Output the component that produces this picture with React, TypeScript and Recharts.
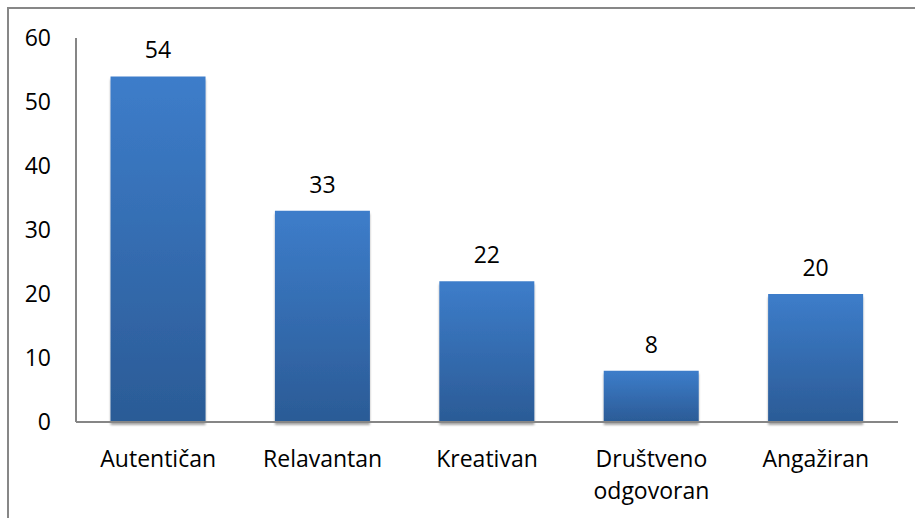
import { BarChart, Bar, XAxis, YAxis, LabelList } from 'recharts';

const categories = ['Autentičan', 'Relavantan', 'Kreativan', 'Društveno odgovoran', 'Angažiran'];
const values = [54, 33, 22, 8, 20];
const yTicks = [0, 10, 20, 30, 40, 50, 60];

const data = categories.map((name, i) => ({ name, value: values[i] }));

const FONT = '"Open Sans", "Noto Sans", sans-serif';
const FONT_SIZE = 23;

function CategoryTick({ x, y, payload }: any) {
  const words: string[] = String(payload.value).split(' ');
  return (
    <text x={x} y={y} textAnchor="middle" fill="#000" fontFamily={FONT} fontSize={FONT_SIZE}>
      {words.map((w, i) => (
        <tspan key={i} x={x} dy={i === 0 ? 37 : 32}>
          {w}
        </tspan>
      ))}
    </text>
  );
}

export default function App() {
  return (
    <div style={{ position: 'absolute', left: 0, top: 0, width: 915, height: 518, background: '#fff' }}>
      <div
        style={{
          position: 'absolute',
          left: 7,
          top: 7,
          right: -10,
          bottom: -10,
          borderLeft: '2px solid #878787',
          borderTop: '2px solid #878787',
        }}
      />
      <BarChart
        width={915}
        height={518}
        data={data}
        margin={{ top: 38, right: 17, bottom: 0, left: 0 }}
        barCategoryGap="21%"
        style={{ position: 'absolute', left: 0, top: 0 }}
      >
        <defs>
          <linearGradient id="barFill" x1="0" y1="0" x2="0" y2="1">
            <stop offset="0%" stopColor="#3D7DCA" />
            <stop offset="100%" stopColor="#2B5B96" />
          </linearGradient>
          <filter id="barShadow" x="-10%" y="-10%" width="120%" height="130%">
            <feDropShadow dx="0" dy="3" stdDeviation="1.2" floodColor="#000" floodOpacity="0.35" />
          </filter>
        </defs>
        <XAxis
          dataKey="name"
          interval={0}
          tickLine={false}
          axisLine={{ stroke: '#868686', strokeWidth: 2 }}
          tick={<CategoryTick />}
          height={96}
        />
        <YAxis
          domain={[0, 60]}
          ticks={yTicks}
          width={76}
          tickLine={false}
          tickSize={0}
          tickMargin={25}
          axisLine={{ stroke: '#868686', strokeWidth: 2 }}
          tick={{ fill: '#000', fontSize: FONT_SIZE, fontFamily: FONT }}
        />
        <Bar dataKey="value" fill="url(#barFill)" filter="url(#barShadow)" isAnimationActive={false}>
          <LabelList
            dataKey="value"
            position="top"
            offset={18}
            fill="#000"
            fontSize={FONT_SIZE}
            fontFamily={FONT}
          />
        </Bar>
      </BarChart>
    </div>
  );
}
